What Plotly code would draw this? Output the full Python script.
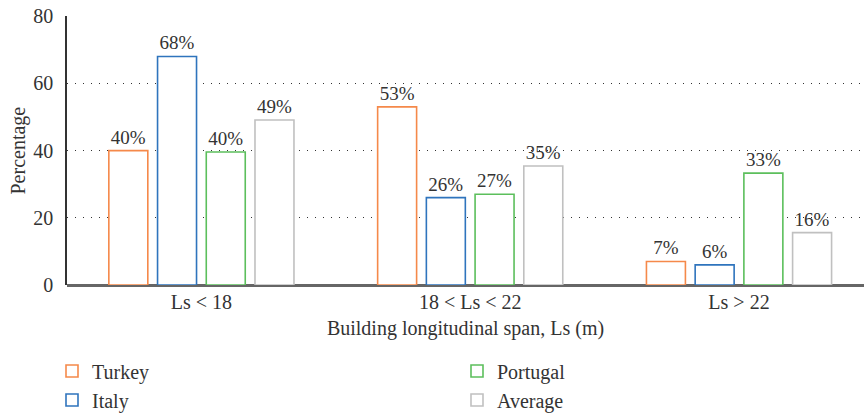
import plotly.graph_objects as go

categories = ["Ls < 18", "18 < Ls < 22", "Ls > 22"]
series_names = ["Turkey", "Italy", "Portugal", "Average"]
turkey = [40, 53, 7]
italy = [68, 26, 6]
portugal = [39.6, 27, 33.3]
average = [49.1, 35.4, 15.6]
turkey_labels = ["40%", "53%", "7%"]
italy_labels = ["68%", "26%", "6%"]
portugal_labels = ["40%", "27%", "33%"]
average_labels = ["49%", "35%", "16%"]
y_ticks = [0, 20, 40, 60, 80]

colors = ["#F5894A", "#2F74BD", "#5CBF5C", "#C0C0C0"]
values = [turkey, italy, portugal, average]
labels = [turkey_labels, italy_labels, portugal_labels, average_labels]
legend_ids = ["legend", "legend", "legend2", "legend2"]

FONT = "Liberation Serif"
TXT = "#333333"
W, H = 864, 417
L, R, T, B = 67, 0, 16, 132

fig = go.Figure()
for name, vals, labs, col, lg in zip(series_names, values, labels, colors, legend_ids):
    fig.add_trace(go.Bar(
        x=categories, y=vals, name=name, text=labs,
        textposition="outside", cliponaxis=False,
        textfont=dict(family=FONT, size=19, color=TXT),
        marker=dict(color="white", line=dict(color=col, width=1.6)),
        legend=lg,
    ))

legend_common = dict(orientation="v", xanchor="left", xref="container",
                     yanchor="top", yref="container", y=0.157,
                     font=dict(family=FONT, size=20, color=TXT),
                     tracegroupgap=0, itemwidth=30, bgcolor="rgba(0,0,0,0)")

fig.update_layout(
    width=W, height=H,
    margin=dict(l=L, r=R, t=T, b=B, autoexpand=False),
    paper_bgcolor="white", plot_bgcolor="white",
    barmode="group", bargap=0.275, bargroupgap=0.2,
    font=dict(family=FONT, size=19, color=TXT),
    showlegend=True,
    legend=dict(x=52 / W, **legend_common),
    legend2=dict(x=457 / W, **legend_common),
    xaxis=dict(range=[-0.5, 2.465], showgrid=False, showline=False, ticks="",
               ticklabelstandoff=3,
               title=dict(text="Building longitudinal span, Ls (m)", standoff=8,
                          font=dict(family=FONT, size=20, color=TXT)),
               tickfont=dict(family=FONT, size=20, color=TXT)),
    yaxis=dict(range=[0, 80.05], tickvals=y_ticks, showgrid=True, gridcolor="#333333",
               griddash="1px,7px", gridwidth=1.3, showline=True, linecolor="#333333",
               linewidth=1.5, zeroline=True, zerolinecolor="#666666", zerolinewidth=2.5,
               ticks="", ticklabelstandoff=8, ticklabeloverflow="allow",
               tickfont=dict(family=FONT, size=20, color=TXT)),
    annotations=[dict(text="Percentage", textangle=-90, xref="paper", yref="paper",
                      x=-(L - 18) / (W - L - R), y=0.5, xanchor="center", yanchor="middle",
                      showarrow=False, font=dict(family=FONT, size=20, color=TXT))],
)

fig.write_html("out.html", config={"displayModeBar": False},
               post_script="document.body.style.margin='0';")
